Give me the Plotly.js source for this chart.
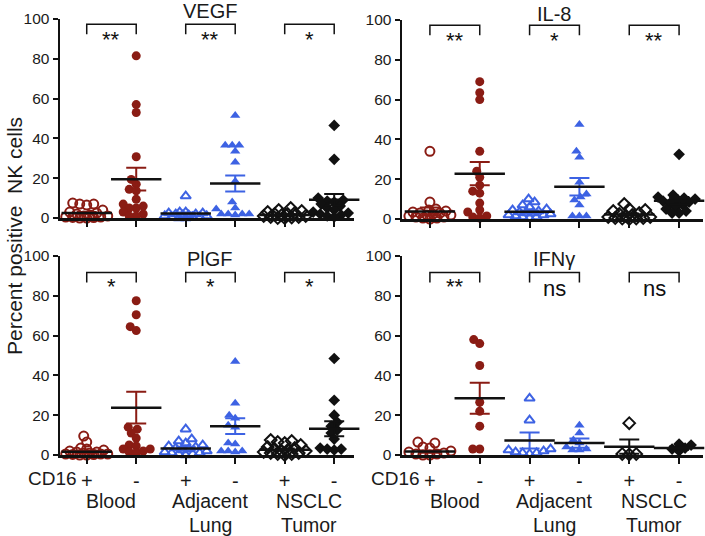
<!DOCTYPE html>
<html>
<head>
<meta charset="utf-8">
<script src="https://cdn.plot.ly/plotly-3.0.1.min.js"></script>
<style>html,body{margin:0;padding:0;background:#fff;} #chart{width:705px;height:536px;}</style>
</head>
<body>
<div id="chart"></div>
<script>
// ---------------- DATA ----------------
const groupLine1 = ['Blood', 'Adjacent', 'NSCLC'];
const groupLine2 = ['', 'Lung', 'Tumor'];
const cd16Ticks = ['+', '-', '+', '-', '+', '-'];
const yTicks = [0, 20, 40, 60, 80, 100];

// VEGF (groups: Blood+, Blood-, Lung+, Lung-, Tumor+, Tumor-)
const vegf = [
  [7, 7.5, 6.5, 7, 4, 3, 2.5, 2, 1.5, 1, 1, 0.5, 0.5, 0.3, 0.2, 0, 0],
  [81.5, 57, 53, 30.8, 19.4, 17, 14.4, 13.7, 9.4, 7, 6, 5, 5, 3, 2, 1, 1],
  [11, 3, 3, 2.5, 2.5, 2, 2, 1.5, 1.5, 1, 1, 0.5, 0.5, 0.5, 0, 0],
  [51.5, 36.5, 36.5, 36.5, 33.5, 28, 18.5, 8, 5, 4.5, 2, 2, 2, 2, 1.5],
  [5, 4, 3.5, 3, 2.5, 2, 2, 1.5, 1, 1, 0.5, 0.5, 0.3, 0, 0],
  [46.5, 29.5, 10, 9, 8.5, 8, 7, 6, 5, 4, 3, 2.5, 2, 1.5, 1, 0.5]
];
const vegfMean = [2.5, 19.5, 2.2, 17.3, 1.5, 9.2];
const vegfSem  = [0.5, 5.7, 0.6, 4.0, 0.4, 2.8];
const vegfSig  = ['**', '**', '*'];

// IL-8
const il8 = [
  [34, 8.5, 5, 4.5, 4, 3.5, 3, 3, 2.5, 2, 2, 1.5, 1, 1, 0.5, 0.5, 0],
  [69, 63.5, 60, 34, 24, 21, 17, 14, 13, 8, 4.5, 3.5, 1.5, 1, 0.5],
  [10, 8.5, 7, 6, 5, 4.5, 4, 3.5, 3, 3, 2.5, 2, 2, 1.5, 1, 1, 0.5],
  [47.5, 34, 31, 18.5, 12.5, 11, 9.5, 7, 1.5, 1.5, 1.5],
  [7.5, 5, 4.5, 4, 3, 2.5, 2, 1.5, 1, 1, 0.5, 0.5, 0.3, 0.2, 0],
  [32.5, 12, 11, 10.5, 10, 9.5, 9, 8.5, 8, 7, 6, 5, 4, 3, 3]
];
const il8Mean = [3.8, 22.8, 3.6, 16.2, 2.2, 9.2];
const il8Sem  = [2.0, 5.9, 0.7, 4.4, 0.6, 1.8];
const il8Sig  = ['**', '*', '**'];

// PlGF
const plgf = [
  [9.5, 6.5, 3.5, 3, 2.5, 2, 1.5, 1.5, 1, 1, 0.5, 0.5, 0.5, 0.3, 0.2, 0, 0],
  [77.5, 70.5, 64.5, 62.5, 14, 13, 11, 8.5, 5, 4.5, 3, 3, 2, 1.5, 1],
  [13, 8, 7, 6, 5, 4.5, 4, 3.5, 3, 2.5, 2, 1.5, 1, 1, 0.5, 0.5, 0],
  [47, 26, 20, 18.5, 15, 14, 6, 5.5, 2, 2, 2, 1.5],
  [7.5, 7, 6.5, 6, 5, 4, 3.5, 3, 2.5, 2, 2, 1.5, 1, 1, 0.5, 0.5, 0],
  [48.5, 27.5, 20, 16.5, 14.5, 12.5, 11, 8, 3.5, 3, 3, 2.5]
];
const plgfMean = [1.6, 23.8, 3.3, 14.5, 2.7, 13.2];
const plgfSem  = [0.6, 8.0, 0.9, 4.0, 0.6, 3.8];
const plgfSig  = ['*', '*', '*'];

// IFNγ
const ifng = [
  [6.5, 6, 4, 3.5, 2, 1.5, 1, 0.5, 0.5, 0, 0],
  [58, 56, 45, 26.5, 22, 14.5, 3, 3],
  [28.5, 17.5, 3, 2.5, 2, 1.5, 1, 1, 0.5],
  [15, 11, 7.5, 6, 4, 3, 2.5, 2.5],
  [16, 0.5, 0.5, 0.3],
  [5.5, 5, 3.5, 3, 2]
];
const ifngMean = [1.7, 28.5, 7.3, 6.0, 4.2, 3.5];
const ifngSem  = [0.6, 7.8, 4.0, 2.3, 3.6, 0.8];
const ifngSig  = ['**', 'ns', 'ns'];

// ---------------- STYLE ----------------
const RED = '#8a1c14', BLUE = '#3d62e3', BLK = '#111111';
const groupStyle = [
  {color: RED,  symbol: 'circle-open',      lw: 2},
  {color: RED,  symbol: 'circle',           lw: 0},
  {color: BLUE, symbol: 'triangle-up-open', lw: 2},
  {color: BLUE, symbol: 'triangle-up',      lw: 0},
  {color: BLK,  symbol: 'diamond-open',     lw: 2},
  {color: BLK,  symbol: 'diamond',          lw: 0}
];
const W = 705, H = 536;
const FONT = 'Liberation Sans, Arial, sans-serif';

const panels = [
  {title: 'VEGF', vals: vegf, mean: vegfMean, sem: vegfSem, sig: vegfSig, xd: [60, 354], yd: [19, 218], xr: [-0.54, 5.4], ty: 11, br: [97.3, 92.3], st: 89.8, ns: 86, bottom: false},
  {title: 'IL-8', vals: il8, mean: il8Mean, sem: il8Sem, sig: il8Sig, xd: [402, 703], yd: [20, 219], xr: [-0.56, 5.48], ty: 14, br: [97.3, 92.3], st: 89.8, ns: 86, bottom: false},
  {title: 'PlGF', vals: plgf, mean: plgfMean, sem: plgfSem, sig: plgfSig, xd: [60, 354], yd: [256, 455], xr: [-0.54, 5.4], ty: 259, br: [91.7, 86.7], st: 84.5, ns: 83.5, bottom: true},
  {title: 'IFNγ', vals: ifng, mean: ifngMean, sem: ifngSem, sig: ifngSig, xd: [402, 703], yd: [256, 455], xr: [-0.56, 5.48], ty: 259, br: [91.7, 86.7], st: 84.5, ns: 83.5, bottom: true}
];

// beeswarm offsets (pixels) derived from the values
function swarm(vals, pxY, D, maxHalf) {
  const order = vals.map((v, i) => i).sort((a, b) => vals[a] - vals[b]);
  const placed = [];
  const off = new Array(vals.length).fill(0);
  for (const i of order) {
    const y = vals[i] * pxY;
    let chosen = null, fb = 0, fbScore = -1;
    for (let k = 0; k <= 2 * maxHalf; k++) {
      const x = (k % 2 ? -1 : 1) * Math.ceil(k / 2);
      let minD = Infinity;
      for (const p of placed) {
        const d = Math.hypot(p.x - x, p.y - y);
        if (d < minD) minD = d;
      }
      if (minD >= D) { chosen = x; break; }
      if (minD > fbScore) { fbScore = minD; fb = x; }
    }
    if (chosen === null) chosen = fb;
    placed.push({x: chosen, y: y});
    off[i] = chosen;
  }
  return off;
}

const traces = [];
const layout = {
  width: W, height: H,
  margin: {l: 0, r: 0, t: 0, b: 0},
  paper_bgcolor: '#fff', plot_bgcolor: 'rgba(0,0,0,0)',
  showlegend: false,
  font: {family: FONT, color: '#1a1a1a'},
  annotations: [], shapes: []
};

panels.forEach((p, pi) => {
  const n = pi === 0 ? '' : String(pi + 1);
  const xa = 'x' + n, ya = 'y' + n;
  const xaxKey = 'xaxis' + n, yaxKey = 'yaxis' + n;
  const pxPerCat = (p.xd[1] - p.xd[0]) / (p.xr[1] - p.xr[0]);
  const pxY = (p.yd[1] - p.yd[0]) / 100;
  const cat0px = p.xd[0] + (0 - p.xr[0]) * pxPerCat;

  layout[xaxKey] = {
    domain: [p.xd[0] / W, p.xd[1] / W], range: p.xr, anchor: ya,
    showline: true, linewidth: 2.5, linecolor: '#111', showgrid: false, zeroline: false,
    tickmode: 'array', tickvals: [0, 1, 2, 3, 4, 5], ticktext: cd16Ticks,
    ticks: 'outside', ticklen: 6, tickwidth: 2, tickcolor: '#111',
    showticklabels: p.bottom, tickfont: {size: 20, family: FONT, color: '#1a1a1a'},
    fixedrange: true
  };
  layout[yaxKey] = {
    domain: [1 - p.yd[1] / H, 1 - p.yd[0] / H], range: [0, 100], anchor: xa,
    showline: true, linewidth: 2.5, linecolor: '#111', showgrid: false, zeroline: false,
    tickmode: 'array', tickvals: yTicks, ticks: 'outside', ticklen: 5, tickwidth: 2, tickcolor: '#111',
    tickfont: {size: 15.5, family: FONT, color: '#1a1a1a'}, fixedrange: true
  };

  p.vals.forEach((vals, g) => {
    const st = groupStyle[g];
    const off = swarm(vals, pxY, 6.5, 21);
    traces.push({
      type: 'scatter', mode: 'markers', xaxis: xa, yaxis: ya, cliponaxis: false,
      x: vals.map((v, i) => g + off[i] / pxPerCat), y: vals,
      marker: {symbol: st.symbol, size: 9, color: st.color, line: {color: st.color, width: st.lw}},
      hoverinfo: 'skip'
    });
  });
  // mean + SEM per group
  p.mean.forEach((m, g) => {
    const st = groupStyle[g];
    traces.push({
      type: 'scatter', mode: 'markers', xaxis: xa, yaxis: ya, cliponaxis: false,
      x: [g], y: [m],
      marker: {symbol: 'line-ew', size: 36, color: '#111', line: {color: '#111', width: 2.5}},
      error_y: {type: 'data', array: [p.sem[g]], visible: true, width: 10, thickness: 2, color: st.color},
      hoverinfo: 'skip'
    });
  });

  // brackets + significance
  p.sig.forEach((s, k) => {
    const a = 2 * k, b = 2 * k + 1;
    layout.shapes.push({type: 'path', xref: xa, yref: ya,
      path: `M ${a} ${p.br[1]} L ${a} ${p.br[0]} L ${b} ${p.br[0]} L ${b} ${p.br[1]}`,
      line: {color: '#111', width: 1.5}});
    const isNs = s === 'ns';
    layout.annotations.push({xref: xa, yref: ya, x: a + 0.5, y: isNs ? p.ns : p.st,
      text: s, showarrow: false, xanchor: 'center', yanchor: 'middle',
      font: {size: 22, family: FONT, color: '#111'}});
  });

  // panel title
  layout.annotations.push({xref: xa, yref: 'paper', x: 2.5, y: 1 - p.ty / H,
    text: p.title, showarrow: false, xanchor: 'center', yanchor: 'middle',
    font: {size: 20, family: FONT, color: '#1a1a1a'}});

  if (p.bottom) {
    layout.annotations.push({xref: 'paper', yref: 'paper',
      x: (cat0px - 8) / W, y: 1 - 478 / H, text: 'CD16', showarrow: false,
      xanchor: 'right', yanchor: 'middle', font: {size: 19, family: FONT, color: '#1a1a1a'}});
    groupLine1.forEach((lab, k) => {
      layout.annotations.push({xref: xa, yref: 'paper', x: 2 * k + 0.5, y: 1 - 501 / H,
        text: lab, showarrow: false, xanchor: 'center', yanchor: 'middle',
        font: {size: 19.5, family: FONT, color: '#1a1a1a'}});
    });
    groupLine2.forEach((lab, k) => {
      if (!lab) return;
      layout.annotations.push({xref: xa, yref: 'paper', x: 2 * k + 0.5, y: 1 - 525 / H,
        text: lab, showarrow: false, xanchor: 'center', yanchor: 'middle',
        font: {size: 19.5, family: FONT, color: '#1a1a1a'}});
    });
  }
});

// y axis title
layout.annotations.push({xref: 'paper', yref: 'paper', x: 14 / W, y: 1 - 236 / H,
  text: 'Percent positive  NK cells', textangle: -90, showarrow: false,
  xanchor: 'center', yanchor: 'middle', font: {size: 21, family: FONT, color: '#1a1a1a'}});

Plotly.newPlot('chart', traces, layout, {staticPlot: true, displayModeBar: false});
</script>
</body>
</html>
